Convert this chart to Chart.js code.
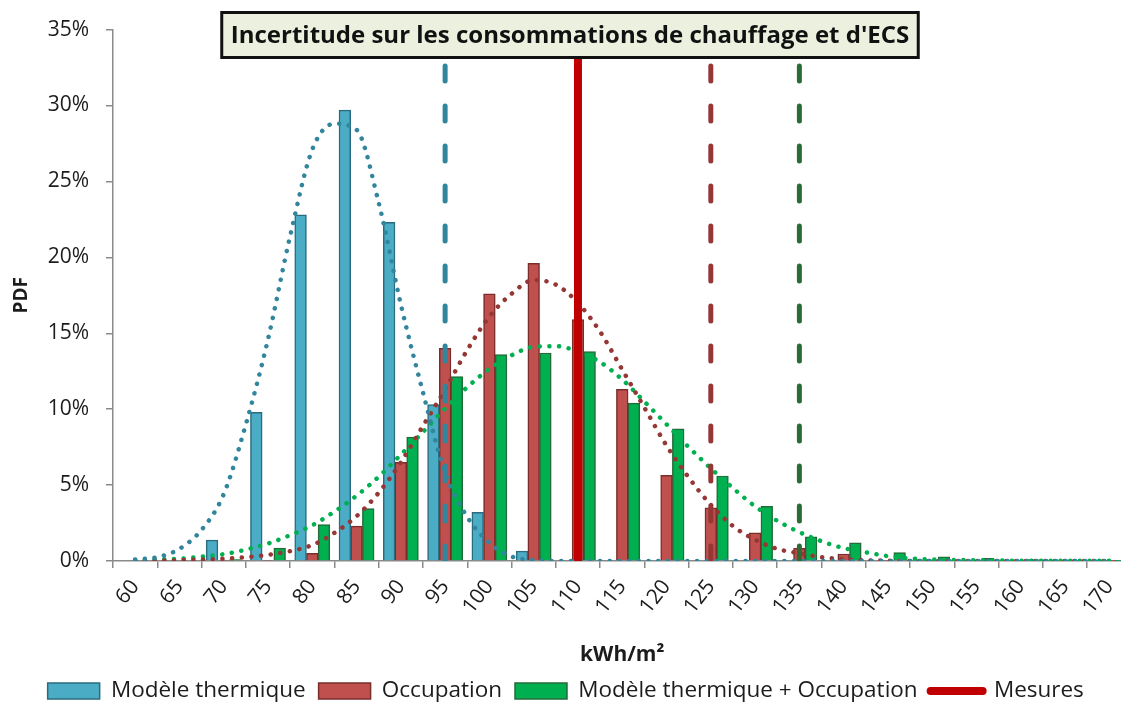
<!DOCTYPE html>
<html lang="fr">
<head>
<meta charset="utf-8">
<title>Incertitude sur les consommations de chauffage et d'ECS</title>
<script src="https://cdn.jsdelivr.net/npm/chart.js@4.4.1/dist/chart.umd.min.js"></script>
<style>
  html, body { margin: 0; padding: 0; background: #fff; overflow: hidden; }
  #boite { width: 1140px; height: 705px; }
</style>
</head>
<body>
<div id="boite"><canvas id="grafico" width="1140" height="705"></canvas></div>
<script>
// categories (kWh/m²)
var categories = [60, 65, 70, 75, 80, 85, 90, 95, 100, 105, 110, 115, 120, 125, 130, 135, 140, 145, 150, 155, 160, 165, 170];

// histogrammes (PDF en %)
var modeleThermique = [0, 0, 1.38, 9.8, 22.8, 29.7, 22.3, 10.3, 3.2, 0.65, 0, 0, 0, 0, 0, 0, 0, 0, 0, 0, 0, 0, 0];
var occupation      = [0, 0, 0.05, 0.05, 0.5, 2.3, 6.5, 14.0, 17.6, 19.6, 15.9, 11.3, 5.65, 3.5, 1.85, 0.83, 0.46, 0.05, 0.03, 0.02, 0.05, 0.01, 0.01];
var combine         = [0, 0, 0.1, 0.85, 2.4, 3.46, 8.16, 12.15, 13.6, 13.7, 13.8, 10.4, 8.7, 5.6, 3.6, 1.6, 1.2, 0.55, 0.28, 0.17, 0.1, 0.03, 0.01];

// courbes ajustees (lues sur le graphique, pas de 2.5 kWh/m²)
var courbeX = [60, 62.5, 65, 67.5, 70, 72.5, 75, 77.5, 80, 82.5, 85, 87.5, 90, 92.5, 95, 97.5, 100, 102.5, 105, 107.5, 110, 112.5, 115, 117.5, 120, 122.5, 125, 127.5, 130, 132.5, 135, 137.5, 140, 142.5, 145, 147.5, 150, 152.5, 155, 157.5, 160, 162.5, 165, 167.5, 170];
var courbeThermique = [0.1, 0.25, 0.8, 2.05, 4.4, 9.0, 14.6, 21.4, 27.1, 28.8, 28.4, 23.6, 16.9, 11.1, 5.8, 2.9, 1.2, 0.3, 0.05, 0, 0, 0, 0, 0, 0, 0, 0, 0, 0, 0, 0, 0, 0, 0, 0, 0, 0, 0, 0, 0, 0, 0, 0, 0, 0];
var courbeOccupation = [0, 0.02, 0.05, 0.1, 0.15, 0.25, 0.4, 0.65, 1.05, 1.85, 2.95, 4.5, 6.5, 8.9, 11.3, 13.9, 16.1, 17.6, 18.5, 18.2, 17.0, 15.1, 12.6, 10.1, 7.6, 5.5, 3.7, 2.3, 1.4, 0.8, 0.5, 0.25, 0.12, 0.05, 0.02, 0, 0, 0, 0, 0, 0, 0, 0, 0, 0];
var courbeCombine = [0.05, 0.1, 0.15, 0.28, 0.45, 0.75, 1.15, 1.7, 2.35, 3.25, 4.3, 5.55, 7.0, 8.5, 10.05, 11.45, 12.65, 13.55, 14.1, 14.15, 13.8, 13.1, 11.95, 10.5, 9.0, 7.5, 6.1, 4.8, 3.6, 2.65, 1.9, 1.3, 0.85, 0.57, 0.32, 0.17, 0.1, 0.07, 0.05, 0.03, 0.02, 0.01, 0.01, 0.01, 0.01];

// lignes verticales
var seuilThermique = 95;
var seuilOccupation = 125;
var seuilCombine = 135;
var mesure = 110;

// graduations de l'axe vertical
var yMin = 0, yMax = 35, yPas = 5;

// bornes des axes continus (bords des categories) et decalage des barres laterales
var xBorneMin = 57.5, xBorneMax = 172.5;
var DECALAGE = 1.32;   // une largeur de barre, en kWh/m²
var LARGEUR = 11.7;    // largeur de barre en px

var TITRE = "Incertitude sur les consommations de chauffage et d'ECS";
var POLICE = '"Open Sans", "Noto Sans", sans-serif';
var TEXTE = '#1c1c1c';
var AXE = '#8a8a8a';

function points(xs, ys) {
    return xs.map(function(x, i) { return { x: x, y: ys[i] }; });
}

function verticale(x) {
    return [{ x: x, y: yMin }, { x: x, y: yMax }];
}

// barres non groupees, chacune sur son axe cache decale
function barres(label, valeurs, axe, fond, bord) {
    return {
        type: 'bar', label: label, data: points(categories, valeurs), xAxisID: axe, grouped: false,
        backgroundColor: fond, borderColor: bord, borderWidth: 1.5,
        barPercentage: 1.0, categoryPercentage: 1.0, maxBarThickness: LARGEUR, order: 3
    };
}

function pointille(label, data, couleur) {
    return {
        type: 'line', label: label, data: data, xAxisID: 'xl',
        borderColor: couleur, borderWidth: 4.5, borderDash: [0.1, 9.6], borderCapStyle: 'round',
        pointRadius: 0, fill: false, cubicInterpolationMode: 'monotone', order: 2
    };
}

function tirets(label, x, couleur) {
    return {
        type: 'line', label: label, data: verticale(x), xAxisID: 'xl',
        borderColor: couleur, borderWidth: 5, borderDash: [15, 25], borderCapStyle: 'round',
        pointRadius: 0, fill: false, order: 1
    };
}

function axeCache(decalage) {
    return {
        type: 'linear', display: false, offset: false, grid: { offset: false },
        min: xBorneMin + decalage, max: xBorneMax + decalage,
        ticks: { includeBounds: false, stepSize: 5 }
    };
}

// boite de titre dessinee par dessus les lignes
var titreBoite = {
    id: 'titreBoite',
    afterDatasetsDraw: function(chart) {
        var ctx = chart.ctx;
        ctx.save();
        ctx.font = 'bold 24px ' + POLICE;
        var w = ctx.measureText(TITRE).width + 18;
        var h = 45;
        var cx = chart.width / 2, cy = 35;
        ctx.fillStyle = '#EBF1DE';
        ctx.fillRect(cx - w / 2, cy - h / 2, w, h);
        ctx.lineWidth = 3;
        ctx.strokeStyle = '#111';
        ctx.strokeRect(cx - w / 2, cy - h / 2, w, h);
        ctx.fillStyle = '#111';
        ctx.textAlign = 'center';
        ctx.textBaseline = 'middle';
        ctx.fillText(TITRE, cx, cy + 1);
        ctx.restore();
    }
};

new Chart(document.getElementById('grafico'), {
    type: 'bar',
    data: {
        labels: categories,
        datasets: [
            barres('Modèle thermique', modeleThermique, 'xa', '#4BACC6', '#2A6B7E'),
            barres('Occupation', occupation, 'xl', '#C0504D', '#7A2E2C'),
            barres('Modèle thermique + Occupation', combine, 'xc', '#00B050', '#236B38'),
            {
                type: 'line', label: 'Mesures', data: verticale(mesure), xAxisID: 'xl',
                borderColor: '#C00000', backgroundColor: '#C00000', borderWidth: 8, borderCapStyle: 'butt',
                pointRadius: 0, fill: false, order: 0
            },
            pointille('Ajustement modèle thermique', points(courbeX, courbeThermique), '#31859C'),
            pointille('Ajustement occupation', points(courbeX, courbeOccupation), '#953735'),
            pointille('Ajustement combiné', points(courbeX, courbeCombine), '#00B050'),
            tirets('Seuil modèle thermique', seuilThermique, '#31859C'),
            tirets('Seuil occupation', seuilOccupation, '#953735'),
            tirets('Seuil combiné', seuilCombine, '#2B6B35')
        ]
    },
    options: {
        responsive: false,
        animation: false,
        events: [],
        layout: { padding: { top: 28, right: 8.5, bottom: -7.25, left: 0 } },
        scales: {
            x: {
                type: 'category',
                offset: true,
                grid: { offset: true, drawOnChartArea: false, drawTicks: true, tickLength: 7, color: AXE, lineWidth: 1.5 },
                border: { color: AXE, width: 1.5 },
                ticks: {
                    autoSkip: false, minRotation: 52, maxRotation: 52, padding: 7,
                    color: TEXTE, font: { family: POLICE, size: 21 }
                },
                title: {
                    display: true, text: 'kWh/m²', color: TEXTE,
                    font: { family: POLICE, size: 21, weight: 'bold', lineHeight: 1 },
                    padding: { top: 0, bottom: 1.25 }
                },
                afterFit: function(s) { s.height = 105.75; }
            },
            xa: axeCache(DECALAGE),
            xl: axeCache(0),
            xc: axeCache(-DECALAGE),
            y: {
                stacked: false,
                min: yMin, max: yMax,
                grid: { drawOnChartArea: false, drawTicks: true, tickLength: 7, color: AXE, lineWidth: 1.5 },
                border: { color: AXE, width: 1.5 },
                ticks: {
                    stepSize: yPas, padding: 17, color: TEXTE,
                    font: { family: POLICE, size: 21 },
                    callback: function(v) { return v + '%'; }
                },
                title: {
                    display: true, text: 'PDF', color: TEXTE,
                    font: { family: POLICE, size: 19, weight: 'bold', lineHeight: 1 },
                    padding: { top: 12, bottom: 0 }
                },
                afterFit: function(s) { s.width = 113; }
            }
        },
        plugins: {
            title: { display: false },
            tooltip: { enabled: false },
            legend: {
                position: 'bottom',
                labels: {
                    usePointStyle: true, pointStyleWidth: 52, boxHeight: 16, padding: 13,
                    color: TEXTE, font: { family: POLICE, size: 22.5 },
                    filter: function(item) { return item.datasetIndex <= 3; },
                    sort: function(a, b) { return a.datasetIndex - b.datasetIndex; },
                    generateLabels: function(chart) {
                        var items = Chart.defaults.plugins.legend.labels.generateLabels(chart);
                        items.forEach(function(it) {
                            var ds = chart.data.datasets[it.datasetIndex];
                            if (ds.type === 'line') {
                                it.pointStyle = 'line';
                                it.lineCap = 'round';
                                it.lineWidth = 8;
                                it.strokeStyle = ds.borderColor;
                            } else {
                                it.pointStyle = 'rect';
                                it.lineWidth = 1.5;
                            }
                        });
                        return items;
                    }
                }
            }
        }
    },
    plugins: [titreBoite]
});
</script>
</body>
</html>
